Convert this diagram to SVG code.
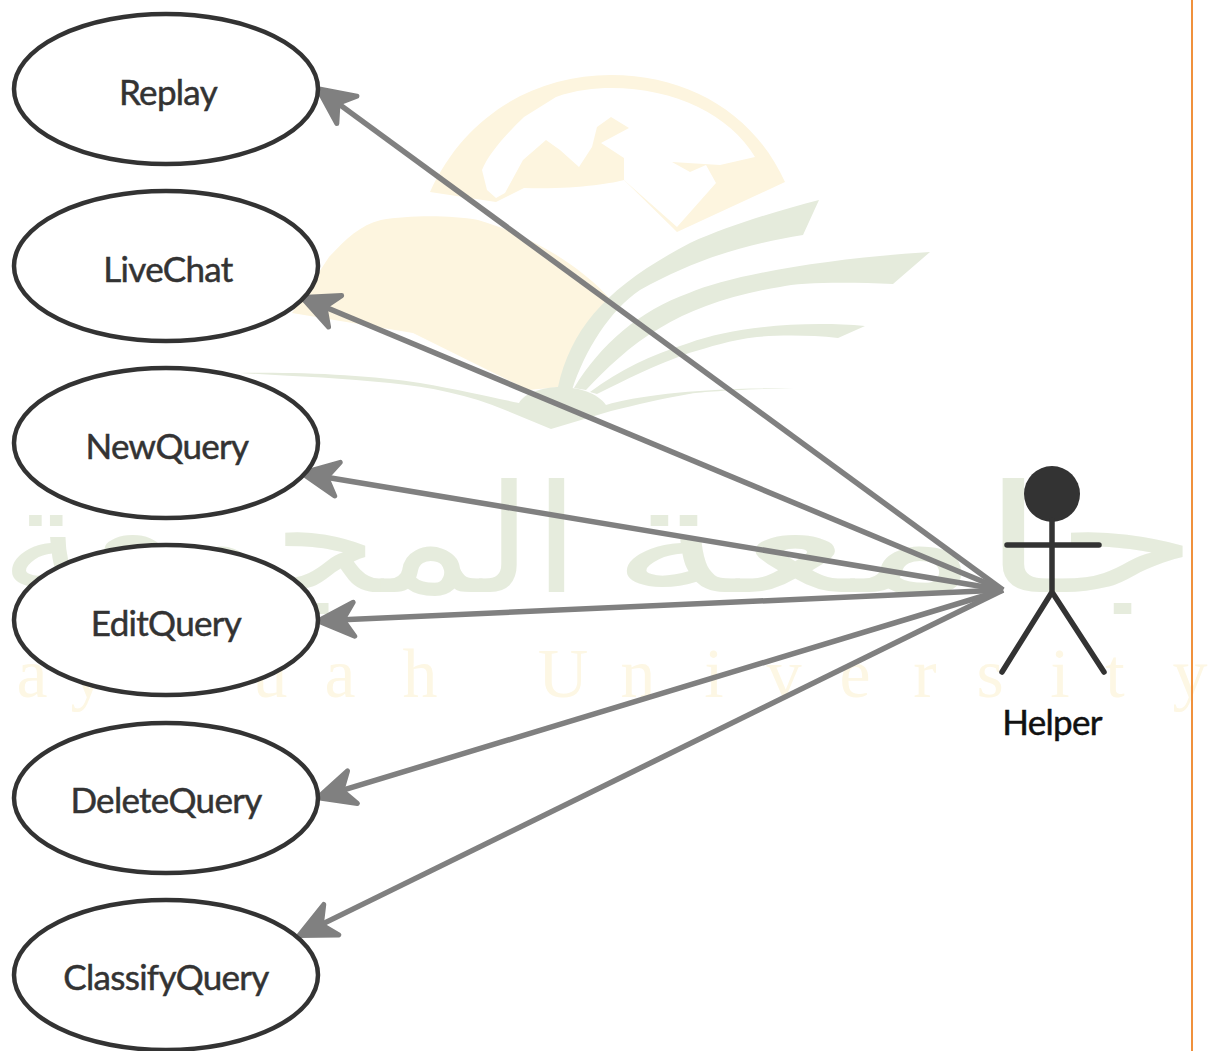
<svg xmlns="http://www.w3.org/2000/svg" width="1218" height="1051" viewBox="0 0 1218 1051">
<style>
.uc{fill:#fff;stroke:#333;stroke-width:4.5}
.lb{font-family:Lato,"Open Sans",sans-serif;font-size:35px;fill:#333;stroke:#333;stroke-width:.5px;text-anchor:middle;letter-spacing:-.7px}
.cn{stroke:#808080;stroke-width:5.5;fill:none;marker-end:url(#ah)}
.ac{stroke:#333;stroke-width:5.5;stroke-linecap:round;fill:none}
.y{fill:#fdf5df}.g{fill:#e5ebdc}
.wa{font-family:"DejaVu Sans",sans-serif;font-size:150px;fill:#e6ecdd;text-anchor:middle}
.wl{font-family:"Liberation Serif",serif;font-size:70px;fill:#fdf7e4;text-anchor:middle}
</style>
<defs>
<marker id="ah" markerUnits="userSpaceOnUse" markerWidth="50" markerHeight="50" viewBox="-4 -24 50 48" refX="23" refY="0" orient="auto">
<path d="M1,-17L37,0L1,17L12,0Z" fill="#808080" stroke="#808080" stroke-width="5" stroke-linejoin="round"/>
</marker>
</defs>
<rect width="1218" height="1051" fill="#fff"/>
<g id="watermark">
<path class="y" d="M430,192C465,115 535,75 611,75C690,75 755,115 785,182L677,232L624,180C615,183 570,190 524,188L496,202Z"/>
<path fill="#fff" d="M487,190L482,170C488,155 505,135 524,117L556,97C575,90 595,88 611,88C675,88 730,115 755,157L720,165L672,162L690,172L706,165L716,183L677,227L624,180L624,158L601,143L629,128L611,117L597,127L592,147L579,167L560,150L546,140L523,160L505,193L496,198Z"/>
<path class="y" d="M292,313L329,257C345,240 360,225 381,220C410,215 450,215 478,220C530,235 580,265 611,300C585,330 567,360 560,387L528,390L413,333Z"/>
<path class="g" d="M558,387C572,325 610,285 690,243C730,225 780,210 819,200L803,235C740,245 690,262 640,290C610,310 585,350 572,390Z"/>
<path class="g" d="M574,388C600,345 640,310 689,293C730,275 830,258 930,252L893,284C850,282 800,282 780,287C730,295 690,310 660,328C630,345 605,370 586,390Z"/>
<path class="g" d="M590,392C620,370 650,355 689,343C730,328 800,320 865,326L838,338C810,335 780,335 757,337C730,340 710,347 689,353C655,365 625,380 597,394Z"/>
<path class="g" d="M240,373C300,372 370,375 420,383C460,390 495,398 519,403C525,392 545,387 560,387C578,387 598,393 606,405C640,395 700,388 794,388C730,390 700,392 689,394C665,398 635,405 611,411L551,429L505,410C470,395 430,387 390,383C340,378 290,376 240,373Z"/>
<text class="wa" x="290" y="592" textLength="580" lengthAdjust="spacingAndGlyphs" direction="rtl">المجمعة</text>
<text class="wa" x="905" y="592" textLength="590" lengthAdjust="spacingAndGlyphs" direction="rtl">جامعة</text>
<text class="wl" y="697" x="32 88 270 340 420 563 638 714 784 855 925 990 1060 1115 1190">ayuahUniversity</text>
</g>
<rect x="1191" y="0" width="2" height="1051" fill="#f0913c"/>
<g id="connectors">
<line class="cn" x1="1003" y1="590" x2="329.1" y2="96.9"/>
<line class="cn" x1="1003" y1="590" x2="314.8" y2="302.8"/>
<line class="cn" x1="1003" y1="590" x2="315.8" y2="475.5"/>
<line class="cn" x1="1003" y1="590" x2="332" y2="620.3"/>
<line class="cn" x1="1003" y1="590" x2="331.4" y2="793.6"/>
<line class="cn" x1="1003" y1="590" x2="311.5" y2="929.4"/>
</g>
<g id="replay"><ellipse class="uc" cx="166" cy="89" rx="152" ry="75"/><text class="lb" x="168" y="105">Replay</text></g>
<g id="livechat"><ellipse class="uc" cx="166" cy="266" rx="152" ry="75"/><text class="lb" x="168" y="282">LiveChat</text></g>
<g id="newquery"><ellipse class="uc" cx="166" cy="443" rx="152" ry="75"/><text class="lb" x="167" y="459">NewQuery</text></g>
<g id="editquery"><ellipse class="uc" cx="166" cy="620" rx="152" ry="75"/><text class="lb" x="166" y="636">EditQuery</text></g>
<g id="deletequery"><ellipse class="uc" cx="166" cy="798" rx="152" ry="75"/><text class="lb" x="166" y="813">DeleteQuery</text></g>
<g id="classifyquery"><ellipse class="uc" cx="166" cy="975" rx="152" ry="75"/><text class="lb" x="166" y="990">ClassifyQuery</text></g>
<g id="helper">
<circle cx="1052" cy="494" r="28" fill="#333"/>
<path class="ac" d="M1052,520V592M1007,545H1099M1052,592L1002,672M1052,592L1104,672"/>
<text class="lb" x="1052" y="735" style="fill:#111;stroke:#111">Helper</text>
</g>
</svg>
